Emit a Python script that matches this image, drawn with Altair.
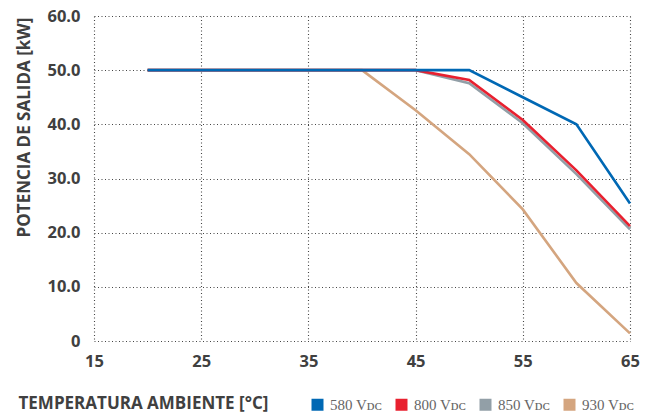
import altair as alt
import pandas as pd

series_names = ["580 V\u1d05\u1d04", "800 V\u1d05\u1d04", "850 V\u1d05\u1d04", "930 V\u1d05\u1d04"]
colors = ["#0068b4", "#e8202f", "#929fa7", "#d4a57f"]

temp_580 = [20, 25, 30, 35, 40, 45, 50, 55, 60, 65]
pow_580 = [50, 50, 50, 50, 50, 50, 50, 45.0, 40.0, 25.4]
temp_800 = [20, 25, 30, 35, 40, 45, 50, 55, 60, 65]
pow_800 = [50, 50, 50, 50, 50, 50, 48.2, 40.8, 31.5, 21.2]
temp_850 = [20, 25, 30, 35, 40, 45, 50, 55, 60, 65]
pow_850 = [50, 50, 50, 50, 50, 50, 47.6, 40.2, 30.8, 20.6]
temp_930 = [20, 25, 30, 35, 40, 45, 50, 55, 60, 65]
pow_930 = [50, 50, 50, 50, 50, 42.6, 34.5, 24.3, 10.7, 1.4]

x_ticks = [15, 25, 35, 45, 55, 65]
y_ticks = [0, 10, 20, 30, 40, 50, 60]

rows = []
# draw order: 930 first (bottom), then 850, 800, 580 (top)
for name, t, p in [(series_names[3], temp_930, pow_930),
                   (series_names[2], temp_850, pow_850),
                   (series_names[1], temp_800, pow_800),
                   (series_names[0], temp_580, pow_580)]:
    for a, b in zip(t, p):
        rows.append({"serie": name, "temp": a, "pot": b})
df = pd.DataFrame(rows)

font = "Open Sans"
txt = "#404040"

chart = alt.Chart(df).mark_line(strokeWidth=2.6).encode(
    x=alt.X("temp:Q",
            scale=alt.Scale(domain=[15, 65], nice=False, zero=False),
            axis=alt.Axis(values=x_ticks, title="TEMPERATURA AMBIENTE [°C]",
                          titleAnchor="start", titleAlign="left",
                          titleX=-76, titleY=62, titleBaseline="middle",
                          labelPadding=12, labelFlush=False)),
    y=alt.Y("pot:Q",
            scale=alt.Scale(domain=[0, 60], nice=False),
            axis=alt.Axis(values=y_ticks, title="POTENCIA DE SALIDA [kW]",
                          labelExpr="datum.value == 0 ? '0' : format(datum.value, '.1f')",
                          titleX=-70, titleY=111, titleAlign="center",
                          titleBaseline="middle", titleAngle=-90,
                          labelPadding=14)),
    color=alt.Color("serie:N",
                    scale=alt.Scale(domain=series_names, range=colors),
                    sort=series_names,
                    legend=alt.Legend(title=None, orient="none", direction="horizontal",
                                      legendX=216, legendY=381,
                                      symbolType="square", symbolSize=16,
                                      symbolStrokeWidth=8, symbolOpacity=1,
                                      labelFont="Liberation Serif, DejaVu Serif",
                                      labelFontSize=15, labelColor="#666666",
                                      labelOffset=5, columnPadding=0)),
    detail="serie:N",
).properties(
    width=536, height=325,
    autosize=alt.AutoSizeParams(type="none"),
    padding={"left": 86, "top": 8, "right": 16, "bottom": 71},
).configure_view(
    stroke=None
).configure_axis(
    grid=True, gridColor="#444444", gridDash=[1, 2.5], gridWidth=1.1, gridOpacity=1,
    domain=False, ticks=False,
    labelFont=font, labelFontSize=16.5, labelFontWeight="bold", labelColor=txt,
    titleFont=font, titleFontSize=17, titleFontWeight="bold", titleColor=txt,
)

chart.save("out.html", embed_options={"renderer": "svg", "actions": False})
